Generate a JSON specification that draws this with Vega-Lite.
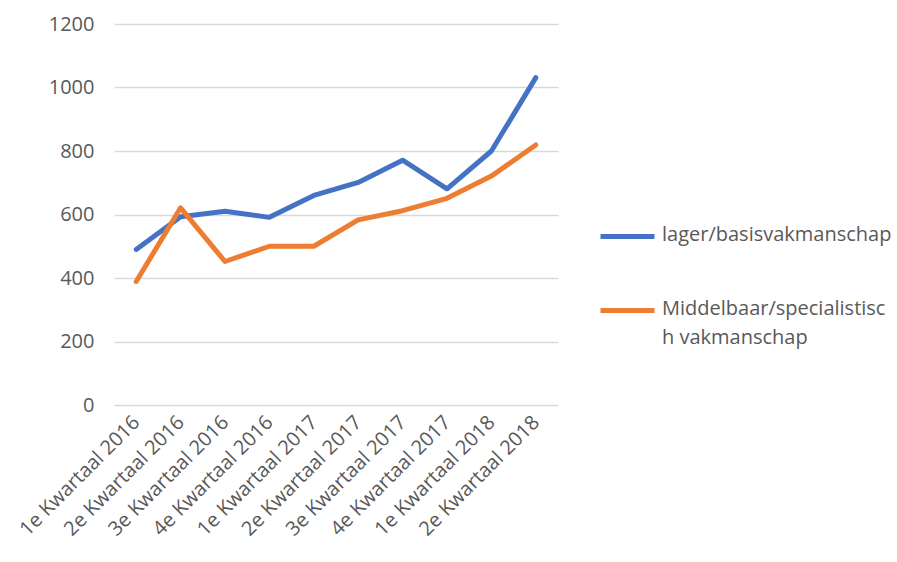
{
  "$schema": "https://vega.github.io/schema/vega-lite/v6.json",
  "autosize": {"type": "none"},
  "width": 444,
  "height": 381,
  "padding": {"left": 114, "top": 24, "right": 339, "bottom": 157},
  "background": "white",
  "data": {
    "values": [
      {"kwartaal": "1e Kwartaal 2016", "serie": "lager/basisvakmanschap", "waarde": 490},
      {"kwartaal": "2e Kwartaal 2016", "serie": "lager/basisvakmanschap", "waarde": 593},
      {"kwartaal": "3e Kwartaal 2016", "serie": "lager/basisvakmanschap", "waarde": 610},
      {"kwartaal": "4e Kwartaal 2016", "serie": "lager/basisvakmanschap", "waarde": 591},
      {"kwartaal": "1e Kwartaal 2017", "serie": "lager/basisvakmanschap", "waarde": 660},
      {"kwartaal": "2e Kwartaal 2017", "serie": "lager/basisvakmanschap", "waarde": 701},
      {"kwartaal": "3e Kwartaal 2017", "serie": "lager/basisvakmanschap", "waarde": 771},
      {"kwartaal": "4e Kwartaal 2017", "serie": "lager/basisvakmanschap", "waarde": 681},
      {"kwartaal": "1e Kwartaal 2018", "serie": "lager/basisvakmanschap", "waarde": 800},
      {"kwartaal": "2e Kwartaal 2018", "serie": "lager/basisvakmanschap", "waarde": 1031},
      {"kwartaal": "1e Kwartaal 2016", "serie": "Middelbaar/specialistisch vakmanschap", "waarde": 389},
      {"kwartaal": "2e Kwartaal 2016", "serie": "Middelbaar/specialistisch vakmanschap", "waarde": 621},
      {"kwartaal": "3e Kwartaal 2016", "serie": "Middelbaar/specialistisch vakmanschap", "waarde": 452},
      {"kwartaal": "4e Kwartaal 2016", "serie": "Middelbaar/specialistisch vakmanschap", "waarde": 500},
      {"kwartaal": "1e Kwartaal 2017", "serie": "Middelbaar/specialistisch vakmanschap", "waarde": 500},
      {"kwartaal": "2e Kwartaal 2017", "serie": "Middelbaar/specialistisch vakmanschap", "waarde": 583},
      {"kwartaal": "3e Kwartaal 2017", "serie": "Middelbaar/specialistisch vakmanschap", "waarde": 612},
      {"kwartaal": "4e Kwartaal 2017", "serie": "Middelbaar/specialistisch vakmanschap", "waarde": 651},
      {"kwartaal": "1e Kwartaal 2018", "serie": "Middelbaar/specialistisch vakmanschap", "waarde": 721},
      {"kwartaal": "2e Kwartaal 2018", "serie": "Middelbaar/specialistisch vakmanschap", "waarde": 819}
    ]
  },
  "mark": {"type": "line", "strokeWidth": 5, "strokeCap": "round", "strokeJoin": "round"},
  "encoding": {
    "x": {
      "field": "kwartaal",
      "type": "ordinal",
      "sort": null,
      "scale": {"type": "point", "padding": 0.5},
      "axis": {
        "title": null,
        "domain": false,
        "ticks": false,
        "grid": false,
        "labelAngle": -45,
        "labelAlign": "right",
        "labelBaseline": "middle",
        "labelPadding": 14,
        "labelFont": "Open Sans",
        "labelFontSize": 20,
        "labelColor": "#595959"
      }
    },
    "y": {
      "field": "waarde",
      "type": "quantitative",
      "scale": {"domain": [0, 1200], "nice": false},
      "axis": {
        "title": null,
        "domain": false,
        "ticks": false,
        "values": [0, 200, 400, 600, 800, 1000, 1200],
        "format": "d",
        "gridColor": "#d9d9d9",
        "gridWidth": 1.5,
        "labelPadding": 20,
        "labelFont": "Open Sans",
        "labelFontSize": 20,
        "labelColor": "#595959"
      }
    },
    "color": {
      "field": "serie",
      "type": "nominal",
      "sort": ["lager/basisvakmanschap", "Middelbaar/specialistisch vakmanschap"],
      "scale": {"range": ["#4472C4", "#ED7D31"]},
      "legend": {
        "title": null,
        "orient": "none",
        "legendX": 484,
        "legendY": 183,
        "symbolType": "stroke",
        "symbolSize": 2916,
        "symbolStrokeWidth": 5,
        "labelFont": "Open Sans",
        "labelFontSize": 20,
        "labelColor": "#595959",
        "labelOffset": 5,
        "labelLimit": 300,
        "labelBaseline": "top",
        "rowPadding": 34,
        "labelExpr": "datum.label == 'Middelbaar/specialistisch vakmanschap' ? ['Middelbaar/specialistisc', 'h vakmanschap'] : datum.label",
        "encode": {
          "labels": {"update": {"lineHeight": {"value": 29}, "dy": {"value": -12}}}
        }
      }
    }
  },
  "config": {"view": {"stroke": null}}
}
